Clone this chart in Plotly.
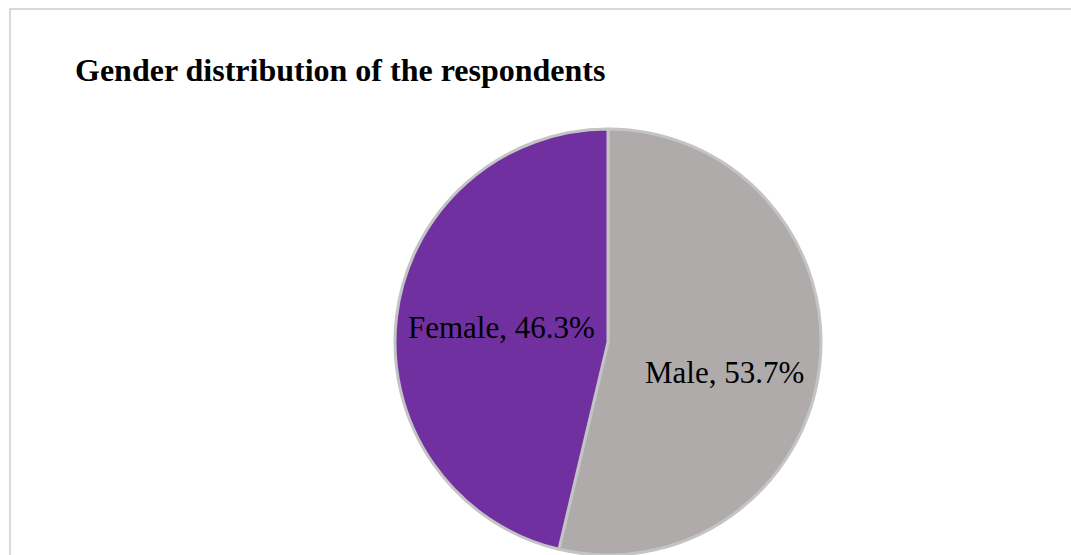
import plotly.graph_objects as go

labels = ["Male", "Female"]
values = [53.7, 46.3]
colors = ["#AFABAB", "#7030A0"]
title_text = "Gender distribution of the respondents"

W, H = 1071, 555
cx_px = 608
r_px = 213
cy_px = H - r_px  # pie center from top

# label offsets from pie centre (pixels), as placed in the reference
label_offsets = {"Male": (116, 30), "Female": (-107, -15)}

FONT = "Times New Roman, Liberation Serif, serif"

fig = go.Figure(go.Pie(
    labels=labels,
    values=values,
    sort=False,
    direction="clockwise",
    rotation=0,
    marker=dict(colors=colors, line=dict(color="#C4C4C4", width=3)),
    textinfo="none",
    showlegend=False,
    hoverinfo="label+percent",
    domain=dict(x=[(cx_px - r_px) / W, (cx_px + r_px) / W], y=[0, 2 * r_px / H]),
))

annotations = []
for lab, val in zip(labels, values):
    dx, dy = label_offsets[lab]
    annotations.append(dict(
        text=f"{lab}, {val:.1f}%",
        x=(cx_px + dx) / W, y=1 - (cy_px + dy) / H,
        xref="paper", yref="paper", xanchor="center", yanchor="middle",
        showarrow=False,
        font=dict(family=FONT, size=31, color="black"),
    ))

fig.update_layout(
    width=W, height=H,
    margin=dict(l=0, r=0, t=0, b=0),
    paper_bgcolor="white",
    plot_bgcolor="white",
    title=dict(
        text="<b>" + title_text + "</b>",
        x=75 / W, xanchor="left", xref="paper",
        y=1 - 81 / H, yanchor="bottom", yref="paper",
        font=dict(family=FONT, size=32, color="black"),
        pad=dict(t=0, b=0, l=0, r=0),
    ),
    annotations=annotations,
    shapes=[dict(type="rect", xref="paper", yref="paper",
                 x0=10 / W, x1=1.05, y0=-0.05, y1=1 - 9 / H,
                 line=dict(color="#D9D9D9", width=2), fillcolor="rgba(0,0,0,0)", layer="below")],
)

fig.write_html("out.html")
